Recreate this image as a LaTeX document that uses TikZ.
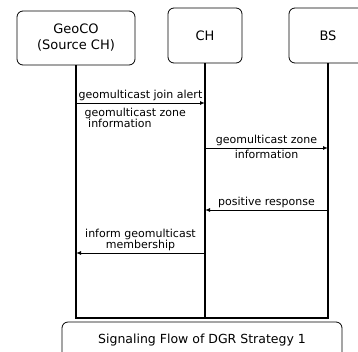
\documentclass[tikz,border=0pt]{standalone}
\usepackage{fontspec}
\setmainfont{DejaVu Sans}
\usetikzlibrary{arrows.meta}
\tikzstyle{entity} = [draw, line width=0.8pt, rounded corners=6pt, minimum height=55pt, text centered, align=center, font=\fontsize{13}{16}\selectfont]
\tikzstyle{lifeline} = [line width=1.2pt]
\tikzstyle{message} = [line width=1pt, -{Latex[length=5pt, width=4pt]}]
\tikzstyle{msgtext} = [font=\fontsize{11}{11}\selectfont, inner sep=1.5pt]
\tikzstyle{caption} = [draw, line width=0.8pt, rounded corners=6pt, minimum width=280pt, minimum height=36pt, font=\fontsize{12.5}{14}\selectfont]

\begin{document}
\begin{tikzpicture}[x=1pt, y=-1pt]
        \useasboundingbox (0,0) rectangle (358,351);
        \clip (0,0) rectangle (358,351);

        \node[entity, minimum width=118pt, minimum height=54pt](geoco) at (76,38) {GeoCO \\ (Source CH)};
        \node[entity, minimum width=74pt](ch) at (205,35.5) {CH};
        \node[entity, minimum width=78pt](bs) at (328,35.5) {BS};

        \coordinate (m1) at (0,103);
        \coordinate (m2) at (0,148);
        \coordinate (m3) at (0,210);
        \coordinate (m4) at (0,253);
        \coordinate (base) at (0,318);

        \draw[lifeline] (geoco.south) -- (geoco |- base) -- (bs |- base) -- (bs.south);
        \draw[lifeline] (ch.south) -- (ch |- base);

        \draw[message] (geoco |- m1) -- node[msgtext, above]{geomulticast join alert} (ch |- m1);
        \node[msgtext, anchor=north west, align=left] (zonetext) at ([xshift=7pt, yshift=-3pt]geoco |- m1) {geomulticast zone \\ \ information};
        \draw[message] (ch |- m2) -- node[msgtext, above]{geomulticast zone} node[msgtext, below]{information} (bs |- m2);
        \draw[message] (bs |- m3) -- node[msgtext, above]{positive response} (ch |- m3);
        \draw[message] (ch |- m4) -- node[msgtext, above, align=center]{inform geomulticast \\ membership} (geoco |- m4);

        \node[caption](flow) at (202,340) {Signaling Flow of DGR Strategy 1};
    \end{tikzpicture}
\end{document}
